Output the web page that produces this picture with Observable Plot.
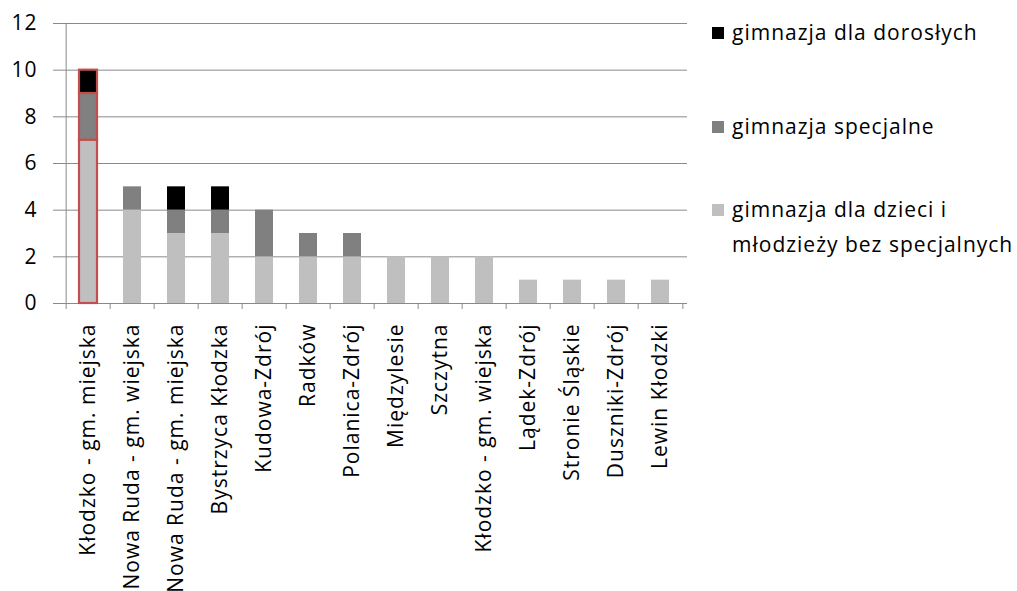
<!DOCTYPE html>
<html>
<head>
<meta charset="utf-8">
<script src="https://cdn.jsdelivr.net/npm/d3@7"></script>
<script src="https://cdn.jsdelivr.net/npm/@observablehq/plot@0.6"></script>
<style>
  html, body { margin: 0; padding: 0; background: #fff; }
  #wrap { position: relative; width: 1017px; height: 591px; font-family: "Open Sans", sans-serif; }
  .leg { position: absolute; left: 712px; font-size: 21px; letter-spacing: 1px; color: #000; line-height: 35px; white-space: nowrap; }
  .sw { position: absolute; left: 0; width: 12px; height: 12px; }
  .lt { position: absolute; left: 20px; }
</style>
</head>
<body>
<div id="wrap"></div>
<script>
const categories = [
  "Kłodzko - gm. miejska", "Nowa Ruda - gm. wiejska", "Nowa Ruda - gm. miejska",
  "Bystrzyca Kłodzka", "Kudowa-Zdrój", "Radków", "Polanica-Zdrój", "Międzylesie",
  "Szczytna", "Kłodzko - gm. wiejska", "Lądek-Zdrój", "Stronie Śląskie",
  "Duszniki-Zdrój", "Lewin Kłodzki"
];
const seriesNames = [
  "gimnazja dla dzieci i młodzieży bez specjalnych",
  "gimnazja specjalne",
  "gimnazja dla dorosłych"
];
const seriesColors = ["#bfbfbf", "#808080", "#000000"];
const childrenValues = [7, 4, 3, 3, 2, 2, 2, 2, 2, 2, 1, 1, 1, 1];
const specialValues  = [2, 1, 1, 1, 2, 1, 1, 0, 0, 0, 0, 0, 0, 0];
const adultValues    = [1, 0, 1, 1, 0, 0, 0, 0, 0, 0, 0, 0, 0, 0];
const yTicks = [0, 2, 4, 6, 8, 10, 12];
const highlighted = "Kłodzko - gm. miejska";

const seriesValues = [childrenValues, specialValues, adultValues];
const data = [];
seriesNames.forEach((s, si) => {
  categories.forEach((c, ci) => data.push({cat: c, series: s, value: seriesValues[si][ci]}));
});

const W = 1017, H = 591, mL = 61, mR = 330, mT = 23, mB = 288;
const step = (W - mL - mR) / categories.length;
const gridColor = "#8a8a8a";

const chart = Plot.plot({
  width: W, height: H,
  marginLeft: mL, marginRight: mR, marginTop: mT, marginBottom: mB,
  style: {fontFamily: "'Open Sans', sans-serif", fontSize: "21px", letterSpacing: "1px", color: "#000", background: "#fff", overflow: "visible"},
  x: {domain: categories, paddingInner: 0.58, paddingOuter: 0.29, align: 0.5},
  y: {domain: [0, 12]},
  color: {domain: seriesNames, range: seriesColors},
  marks: [
    Plot.gridY(yTicks, {stroke: gridColor, strokeOpacity: 1, strokeWidth: 1}),
    Plot.barY(data.filter(d => d.value > 0), Plot.stackY({order: seriesNames}, {
      x: "cat", y: "value", fill: "series",
      stroke: d => d.cat === highlighted ? "#c0504d" : "none",
      strokeWidth: 2.2
    })),
    // y axis line
    Plot.ruleX([categories[0]], {y1: 0, y2: 12, dx: -step / 2, stroke: gridColor}),
    // category boundary ticks
    Plot.ruleX(categories, {y1: 0, y2: 0, dx: -step / 2, insetBottom: -6, stroke: gridColor}),
    Plot.ruleX([categories[categories.length - 1]], {y1: 0, y2: 0, dx: step / 2, insetBottom: -6, stroke: gridColor}),
    Plot.axisY({ticks: yTicks, tickSize: 8, tickPadding: 16, stroke: gridColor, fill: "#000", fontSize: 21, label: null}),
    Plot.axisX({tickSize: 0, tickRotate: -90, tickPadding: 20, fill: "#000", fontSize: 21, label: null})
  ]
});

const wrap = document.getElementById("wrap");
wrap.appendChild(chart);

// Legend (top to bottom: reverse of stacking)
const legendItems = [
  {color: seriesColors[2], top: 15, lines: ["gimnazja dla dorosłych"]},
  {color: seriesColors[1], top: 109, lines: ["gimnazja specjalne"]},
  {color: seriesColors[0], top: 192, lines: ["gimnazja dla dzieci i", "młodzieży bez specjalnych"]}
];
legendItems.forEach(it => {
  const d = document.createElement("div");
  d.className = "leg";
  d.style.top = it.top + "px";
  const sw = document.createElement("div");
  sw.className = "sw";
  sw.style.background = it.color;
  sw.style.top = "12px";
  d.appendChild(sw);
  const t = document.createElement("div");
  t.className = "lt";
  t.innerHTML = it.lines.join("<br>");
  d.appendChild(t);
  wrap.appendChild(d);
});
</script>
</body>
</html>
